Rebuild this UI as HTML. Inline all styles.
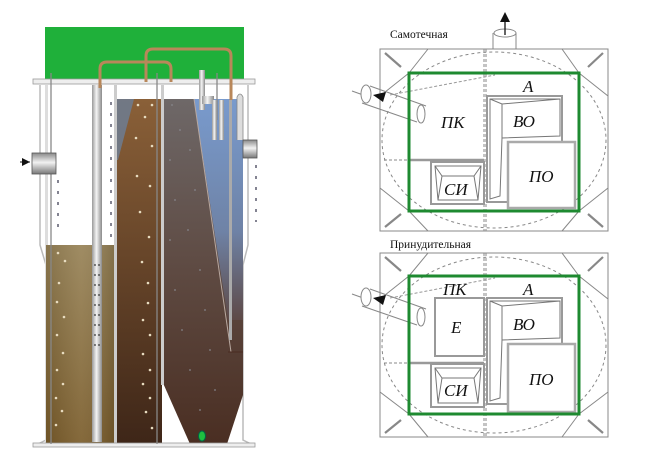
<!DOCTYPE html>
<html><head><meta charset="utf-8"><style>
html,body{margin:0;padding:0;background:#fff;width:646px;height:466px;overflow:hidden}
svg{display:block}
.lbl{font-family:"Liberation Serif",serif;font-style:italic;font-size:17px;fill:#111}
.cap{font-family:"Liberation Serif",serif;font-size:11.5px;fill:#111}
</style></head><body>
<svg width="646" height="466" viewBox="0 0 646 466" xmlns="http://www.w3.org/2000/svg">
<defs>
<linearGradient id="c1" x1="0" y1="0" x2="0" y2="1"><stop offset="0" stop-color="#978256"/><stop offset="1" stop-color="#7a5c2a"/></linearGradient>
<linearGradient id="c1h" x1="0" y1="0" x2="1" y2="0"><stop offset="0" stop-color="#000" stop-opacity=".1"/><stop offset=".5" stop-color="#fff" stop-opacity=".08"/><stop offset="1" stop-color="#000" stop-opacity=".15"/></linearGradient>
<linearGradient id="c2" x1="0" y1="0" x2="0" y2="1"><stop offset="0" stop-color="#8a6038"/><stop offset="1" stop-color="#3e2618"/></linearGradient>
<linearGradient id="c3" x1="0" y1="0" x2="0" y2="1"><stop offset="0" stop-color="#6e6868"/><stop offset=".5" stop-color="#5e4a42"/><stop offset="1" stop-color="#4a2e22"/></linearGradient>
<linearGradient id="bl" x1="0" y1="0" x2="0" y2="1"><stop offset="0" stop-color="#7aa0d8"/><stop offset=".6" stop-color="#7088b0"/><stop offset="1" stop-color="#5e4a48"/></linearGradient>
<linearGradient id="pp" x1="0" y1="0" x2="1" y2="0"><stop offset="0" stop-color="#999"/><stop offset=".45" stop-color="#f4f4f4"/><stop offset="1" stop-color="#8a8a8a"/></linearGradient>
<linearGradient id="cy" x1="0" y1="0" x2="0" y2="1"><stop offset="0" stop-color="#888"/><stop offset=".45" stop-color="#f2f2f2"/><stop offset="1" stop-color="#777"/></linearGradient>
</defs>

<rect x="45" y="27" width="199" height="53" fill="#1fb03a"/>
<path d="M40 85 L40 245 L46 265 L46 440 L38 444" fill="none" stroke="#bbb" stroke-width="1.5"/>
<path d="M248 85 L248 245 L243 265 L243 440 L251 444" fill="none" stroke="#bbb" stroke-width="1.5"/>
<rect x="45" y="85" width="3" height="360" fill="#ddd"/>
<rect x="46" y="245" width="70" height="199" fill="url(#c1)"/>
<rect x="46" y="245" width="70" height="199" fill="url(#c1h)"/>
<rect x="116" y="99" width="46" height="345" fill="url(#c2)"/>
<polygon points="116,99 134,99 118,160 116,160" fill="#6d7c92" opacity=".85"/>
<polygon points="162,99 243,99 243,395 227,444 190,444 163,383" fill="url(#c3)"/>
<polygon points="194,99 243,99 243,320 228,320" fill="url(#bl)" opacity=".9"/>
<line x1="194" y1="99" x2="231" y2="352" stroke="#b8a8a0" stroke-width="1"/>
<rect x="229" y="100" width="3" height="240" fill="#aaa"/>
<line x1="228" y1="352" x2="243" y2="352" stroke="#4a2a20"/>
<rect x="114" y="85" width="3" height="360" fill="#ccc"/>
<rect x="161" y="85" width="3" height="300" fill="#ccc"/>
<rect x="33" y="79" width="222" height="5" fill="#eee" stroke="#999" stroke-width=".8"/>
<rect x="33" y="443" width="222" height="4" fill="#eee" stroke="#999" stroke-width=".8"/>
<rect x="92" y="97" width="10" height="345" fill="url(#pp)"/>
<rect x="92" y="85" width="10" height="14" fill="url(#pp)"/>
<g fill="#333">
<circle cx="95" cy="265" r=".9"/><circle cx="99" cy="265" r=".9"/><circle cx="95" cy="275" r=".9"/><circle cx="99" cy="275" r=".9"/><circle cx="95" cy="285" r=".9"/><circle cx="99" cy="285" r=".9"/><circle cx="95" cy="295" r=".9"/><circle cx="99" cy="295" r=".9"/><circle cx="95" cy="305" r=".9"/><circle cx="99" cy="305" r=".9"/><circle cx="95" cy="315" r=".9"/><circle cx="99" cy="315" r=".9"/><circle cx="95" cy="325" r=".9"/><circle cx="99" cy="325" r=".9"/><circle cx="95" cy="335" r=".9"/><circle cx="99" cy="335" r=".9"/><circle cx="95" cy="345" r=".9"/><circle cx="99" cy="345" r=".9"/>
</g>
<path d="M100 88 L100 69 Q100 62 107 62 L164 62 Q171 62 171 69 L171 82" fill="none" stroke="#b8875a" stroke-width="3"/>
<path d="M146 82 L146 56 Q146 49 153 49 L224 49 Q231 49 231 56 L231 100" fill="none" stroke="#b8875a" stroke-width="3"/>
<g stroke="#888" stroke-width="1.3"><line x1="51" y1="73" x2="51" y2="444"/><line x1="157" y1="73" x2="157" y2="444"/><line x1="217" y1="73" x2="217" y2="120"/></g>
<rect x="199" y="70" width="6" height="40" fill="url(#pp)"/>
<rect x="202" y="96" width="12" height="8" fill="url(#pp)"/>
<rect x="212" y="100" width="5" height="40" fill="url(#pp)"/>
<rect x="219" y="100" width="5" height="40" fill="url(#pp)"/>
<path d="M237 140 L237 97 Q240 91 243 97 L243 140" fill="#ddd" stroke="#888" stroke-width=".8"/>
<rect x="32" y="153" width="24" height="21" fill="url(#cy)" stroke="#555" stroke-width=".8"/>
<polygon points="22,158 30,162 22,166" fill="#111"/><line x1="20" y1="162" x2="30" y2="162" stroke="#111"/>
<rect x="243" y="140" width="14" height="18" fill="url(#cy)" stroke="#555" stroke-width=".8"/>
<g stroke="#667" stroke-width="1.6" stroke-dasharray="3,8">
<line x1="58" y1="180" x2="58" y2="232"/><line x1="111" y1="102" x2="111" y2="240"/><line x1="256" y1="165" x2="256" y2="222"/>
</g>
<g fill="#e8dcc0">
<circle cx="58" cy="253" r="1.3"/><circle cx="65" cy="261" r="1.3"/><circle cx="59" cy="283" r="1.3"/><circle cx="57" cy="302" r="1.3"/><circle cx="64" cy="317" r="1.3"/><circle cx="57" cy="335" r="1.3"/><circle cx="63" cy="353" r="1.3"/><circle cx="57" cy="370" r="1.3"/><circle cx="63" cy="384" r="1.3"/><circle cx="56" cy="398" r="1.3"/><circle cx="62" cy="411" r="1.3"/><circle cx="56" cy="425" r="1.3"/>
<circle cx="138" cy="105" r="1.3"/><circle cx="152" cy="105" r="1.3"/><circle cx="145" cy="117" r="1.3"/><circle cx="136" cy="138" r="1.3"/><circle cx="152" cy="146" r="1.3"/><circle cx="137" cy="176" r="1.3"/><circle cx="150" cy="186" r="1.3"/><circle cx="140" cy="212" r="1.3"/><circle cx="149" cy="237" r="1.3"/><circle cx="142" cy="262" r="1.3"/><circle cx="148" cy="283" r="1.3"/><circle cx="148" cy="303" r="1.3"/><circle cx="143" cy="320" r="1.3"/><circle cx="150" cy="335" r="1.3"/><circle cx="143" cy="354" r="1.3"/><circle cx="150" cy="370" r="1.3"/><circle cx="143" cy="384" r="1.3"/><circle cx="150" cy="398" r="1.3"/><circle cx="146" cy="412" r="1.3"/><circle cx="152" cy="428" r="1.3"/>
</g>
<g fill="#8a8a90" opacity=".7">
<circle cx="172" cy="105" r="1"/><circle cx="180" cy="130" r="1"/><circle cx="170" cy="160" r="1"/><circle cx="190" cy="150" r="1"/><circle cx="175" cy="200" r="1"/><circle cx="195" cy="190" r="1"/><circle cx="170" cy="240" r="1"/><circle cx="188" cy="230" r="1"/><circle cx="200" cy="270" r="1"/><circle cx="175" cy="290" r="1"/><circle cx="205" cy="310" r="1"/><circle cx="182" cy="330" r="1"/><circle cx="210" cy="350" r="1"/><circle cx="190" cy="370" r="1"/><circle cx="215" cy="390" r="1"/><circle cx="200" cy="410" r="1"/>
</g>
<ellipse cx="202" cy="436" rx="3.5" ry="5" fill="#1ec040" stroke="#064" stroke-width="1"/>

<g fill="none" stroke="#888" stroke-width="1">
<text class="cap" x="390" y="38" stroke="none">Самотечная</text>
<rect x="380" y="49" width="228" height="182" fill="#fff"/>
<ellipse cx="494" cy="140" rx="112" ry="88" stroke-dasharray="3,3"/>
<line x1="484" y1="49" x2="484" y2="231" stroke-dasharray="3,2"/>
<line x1="486" y1="49" x2="486" y2="231" stroke-dasharray="3,2"/>
<path d="M428 49 L409 73 M380 96 L409 73 M562 49 L579 73 M608 96 L579 73 M380 188 L409 211 M428 231 L409 211 M608 188 L579 211 M562 231 L579 211"/>
<path d="M385 53 L401 67 M603 53 L588 67 M385 227 L401 214 M603 227 L588 214" stroke-width="2.2"/>
<line x1="384" y1="160" x2="409" y2="160" stroke-dasharray="3,2"/>
<path d="M493 49 L493 33 M516 49 L516 33" />
<ellipse cx="505" cy="33" rx="11" ry="4" fill="#fff"/>
<line x1="409" y1="160" x2="484" y2="160" stroke-width="2.5" stroke="#999"/>
<rect x="431" y="162" width="53" height="42" stroke-width="2" stroke="#999"/>
<path d="M435 166 L481 166 L478 200 L438 200 Z M435 166 L442 176 L474 176 L481 166 M442 176 L438 200 M474 176 L478 200" stroke="#777"/>
<rect x="487" y="96" width="75" height="106" stroke-width="2" stroke="#999"/>
<path d="M490 99 L560 99 L560 136 L502 138 L500 196 L490 199 Z M490 99 L502 104 L560 99 M502 104 L502 138" stroke="#777"/>
<rect x="508" y="142" width="67" height="66" fill="#fff" stroke-width="2.5" stroke="#aaa"/>
<path d="M352 91 L366 96 M370 86 L426 106 M362 103 L417 122" />
<ellipse cx="366" cy="94" rx="5" ry="9" fill="#fff"/>
<ellipse cx="421" cy="114" rx="4" ry="9"/>
<line x1="390" y1="95" x2="495" y2="75" stroke-dasharray="3,2" stroke="#999"/>
</g>
<line x1="505" y1="35" x2="505" y2="18" stroke="#111" stroke-width="1.3"/>
<polygon points="500,22 505,12 510,22" fill="#111"/>
<polygon points="373,95 386,92 383,102" fill="#111"/>
<rect x="409" y="73" width="170" height="138" fill="none" stroke="#1e8a30" stroke-width="3"/>
<text class="lbl" x="441" y="128">ПК</text>
<text class="lbl" x="513" y="127">ВО</text>
<text class="lbl" x="523" y="92">А</text>
<text class="lbl" x="444" y="195">СИ</text>
<text class="lbl" x="529" y="182">ПО</text>

<text class="cap" x="390" y="248">Принудительная</text>
<g fill="none" stroke="#888" stroke-width="1">
<rect x="380" y="253" width="228" height="184" fill="#fff"/>
<ellipse cx="494" cy="345" rx="112" ry="88" stroke-dasharray="3,3"/>
<line x1="484" y1="253" x2="484" y2="437" stroke-dasharray="3,2"/>
<line x1="486" y1="253" x2="486" y2="437" stroke-dasharray="3,2"/>
<path d="M428 253 L409 276 M380 299 L409 276 M562 253 L579 276 M608 299 L579 276 M380 392 L409 414 M428 437 L409 414 M608 392 L579 414 M562 437 L579 414"/>
<path d="M385 257 L401 271 M603 257 L588 271 M385 433 L401 420 M603 433 L588 420" stroke-width="2.2"/>
<line x1="384" y1="363" x2="409" y2="363" stroke-dasharray="3,2"/>
<line x1="409" y1="363" x2="484" y2="363" stroke-width="2.5" stroke="#999"/>
<rect x="435" y="298" width="49" height="58" stroke-width="2" stroke="#999"/>
<rect x="431" y="364" width="53" height="43" stroke-width="2" stroke="#999"/>
<path d="M435 368 L481 368 L478 403 L438 403 Z M435 368 L442 378 L474 378 L481 368 M442 378 L438 403 M474 378 L478 403" stroke="#777"/>
<rect x="487" y="298" width="75" height="106" stroke-width="2" stroke="#999"/>
<path d="M490 301 L560 301 L560 338 L502 340 L500 398 L490 401 Z M490 301 L502 306 L560 301 M502 306 L502 340" stroke="#777"/>
<rect x="508" y="344" width="67" height="68" fill="#fff" stroke-width="2.5" stroke="#aaa"/>
<path d="M352 294 L366 299 M370 289 L426 309 M362 306 L417 325" />
<ellipse cx="366" cy="297" rx="5" ry="9" fill="#fff"/>
<ellipse cx="421" cy="317" rx="4" ry="9"/>
<line x1="390" y1="298" x2="495" y2="278" stroke-dasharray="3,2" stroke="#999"/>
</g>
<polygon points="373,298 386,295 383,305" fill="#111"/>
<rect x="409" y="276" width="170" height="138" fill="none" stroke="#1e8a30" stroke-width="3"/>
<text class="lbl" x="443" y="295">ПК</text>
<text class="lbl" x="523" y="295">А</text>
<text class="lbl" x="451" y="333">Е</text>
<text class="lbl" x="513" y="330">ВО</text>
<text class="lbl" x="444" y="396">СИ</text>
<text class="lbl" x="529" y="385">ПО</text>
</svg>
</body></html>
